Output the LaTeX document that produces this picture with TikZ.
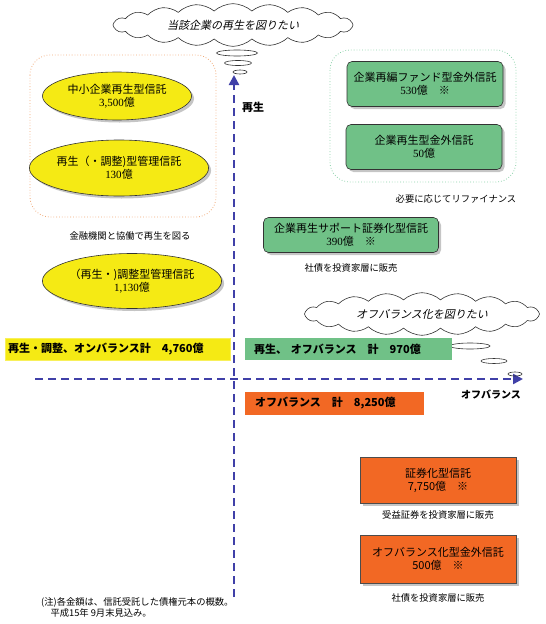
\documentclass[tikz,border=0pt]{standalone}
\usepackage{fontspec}
\setmainfont{Noto Sans CJK JP}
\newfontfamily\jpit[FakeSlant=0.22]{Noto Sans CJK JP}
\newfontfamily\numfont{Liberation Serif}
\definecolor{TrustYellow}{RGB}{245,234,20}
\definecolor{TrustGreen}{RGB}{112,193,135}
\definecolor{TrustOrange}{RGB}{242,104,36}
\definecolor{AxisBlue}{RGB}{64,64,168}
\definecolor{SoftOrange}{RGB}{240,170,120}
\definecolor{SoftMint}{RGB}{140,210,170}
\usetikzlibrary{positioning,arrows.meta,shapes.geometric,shapes.symbols,shadows}

\begin{document}
\begin{tikzpicture}[x=1pt, y=-1pt,
    every node/.style={font=\fontsize{11}{13}\selectfont, align=center, inner sep=1pt},
    shade/.style={drop shadow={shadow xshift=2.5pt, shadow yshift=-2.5pt, fill=black!45}},
    oval/.style={ellipse, draw=black!80, line width=0.6pt, fill=TrustYellow, shade},
    gbox/.style={draw=black!80, rounded corners=5pt, line width=0.6pt, fill=TrustGreen, minimum width=156pt, minimum height=45pt, shade},
    obox/.style={draw=black!70, line width=0.6pt, fill=TrustOrange, minimum width=156pt, minimum height=46pt, shade},
    bar/.style={font=\fontsize{11}{13}\selectfont\bfseries, minimum height=22pt, anchor=west, align=left, inner xsep=0pt},
    memo/.style={font=\fontsize{9.3}{11}\selectfont},
    group/.style={rounded corners=20pt, line width=0.8pt, dotted},
    thought/.style={cloud, draw=black!80, cloud puffs=20, cloud puff arc=85, aspect=6, line width=0.6pt, fill=white, font=\jpit\fontsize{11}{13}\selectfont},
    bubble/.style={ellipse, draw=black!80, line width=0.6pt, inner sep=0pt},
    axis/.style={draw=AxisBlue, line width=2.4pt, dash pattern=on 8pt off 5pt, -{Triangle[length=10pt, width=10pt]}}
  ]
  \useasboundingbox (0,0) rectangle (546,624);

  % axes
  \coordinate (vlow) at (234,597);
  \coordinate (vtop) at (234,75);
  \coordinate (hleft) at (35,379);
  \coordinate (hright) at (523,379);
  \draw[axis] (vlow) -- (vtop);
  \draw[axis] (hleft) -- (hright);
  \node[font=\fontsize{11}{13}\selectfont\bfseries] (regen) at (253,107) {再生};
  \node[font=\fontsize{10}{12}\selectfont\bfseries] (offbal) at (491,395) {オフバランス};

  % thought clouds
  \node[thought, minimum width=240pt, minimum height=34pt] (wish1) at (233,25) {当該企業の再生を図りたい};
  \node[bubble, minimum width=41pt, minimum height=6pt] (b1) at (237,53) {};
  \node[bubble, minimum width=27pt, minimum height=5pt] (b2) at (238,63) {};
  \node[bubble, minimum width=14pt, minimum height=4pt] (b3) at (240,72) {};
  \node[thought, minimum width=235pt, minimum height=37pt] (wish2) at (422,314) {オフバランス化を図りたい};
  \node[bubble, minimum width=40pt, minimum height=6pt] (b4) at (470,346) {};
  \node[bubble, minimum width=26pt, minimum height=5pt] (b5) at (494,361) {};
  \node[bubble, minimum width=14pt, minimum height=4pt] (b6) at (515,374) {};

  % groups
  \draw[group, draw=SoftOrange] (30,55) rectangle (216,217);
  \draw[group, draw=SoftMint] (330,50) rectangle (516,182);

  % on-balance trusts
  \node[oval, minimum width=149pt, minimum height=48pt] (smb) at (117,96) {中小企業再生型信託\\{\numfont 3,500}億};
  \node[oval, minimum width=146pt, minimum height=56pt] (adj1) at (119,168) {再生（・調整)型管理信託\\{\numfont 130}億};
  \node[memo] (coop) at (130,236) {金融機関と協働で再生を図る};
  \node[oval, minimum width=145pt, minimum height=55pt] (adj2) at (132,281) {（再生・)調整型管理信託\\{\numfont 1,130}億};

  % off-balance regeneration
  \node[gbox] (fund) at (425,84) {企業再編ファンド型金外信託\\{\numfont 530}億　※};
  \node[gbox] (revt) at (424,147) {企業再生型金外信託\\{\numfont 50}億};
  \node[memo] (refi) at (456,199) {必要に応じてリファイナンス};
  \node[gbox, minimum width=175pt, minimum height=35pt] (supp) at (351,235) {企業再生サポート証券化型信託\\{\numfont 390}億　※};
  \node[memo, below=10pt of supp] (bond1) {社債を投資家層に販売};

  % totals
  \node[bar, fill=TrustYellow, draw=TrustYellow!70!white, minimum width=222pt, text width=219pt, inner xsep=3pt] (sumon) at (5,349) {再生・調整、オンバランス計　4,760億};
  \node[bar, fill=TrustGreen, minimum width=198pt, text width=189pt, inner xsep=9pt] (sumre) at (245,349) {再生、 オフバランス　計　970億};
  \node[bar, fill=TrustOrange, minimum width=169pt, text width=159pt, inner xsep=10pt, minimum height=23pt] (sumoff) at (245,403) {オフバランス　計　8,250億};

  % off-balance trusts
  \node[obox] (secz) at (438,480) {証券化型信託\\7,750億　※};
  \node[memo, below=6pt of secz] (sold1) {受益証券を投資家層に販売};
  \node[obox, minimum height=48pt] (offt) at (438,559) {オフバランス化型金外信託\\500億　※};
  \node[memo, below=9pt of offt] (bond2) {社債を投資家層に販売};

  % note
  \node[memo, anchor=north west, align=left] (note) at (40,596) {(注)各金額は、信託受託した債権元本の概数。\\　平成15年 9月末見込み。};
\end{tikzpicture}
\end{document}
